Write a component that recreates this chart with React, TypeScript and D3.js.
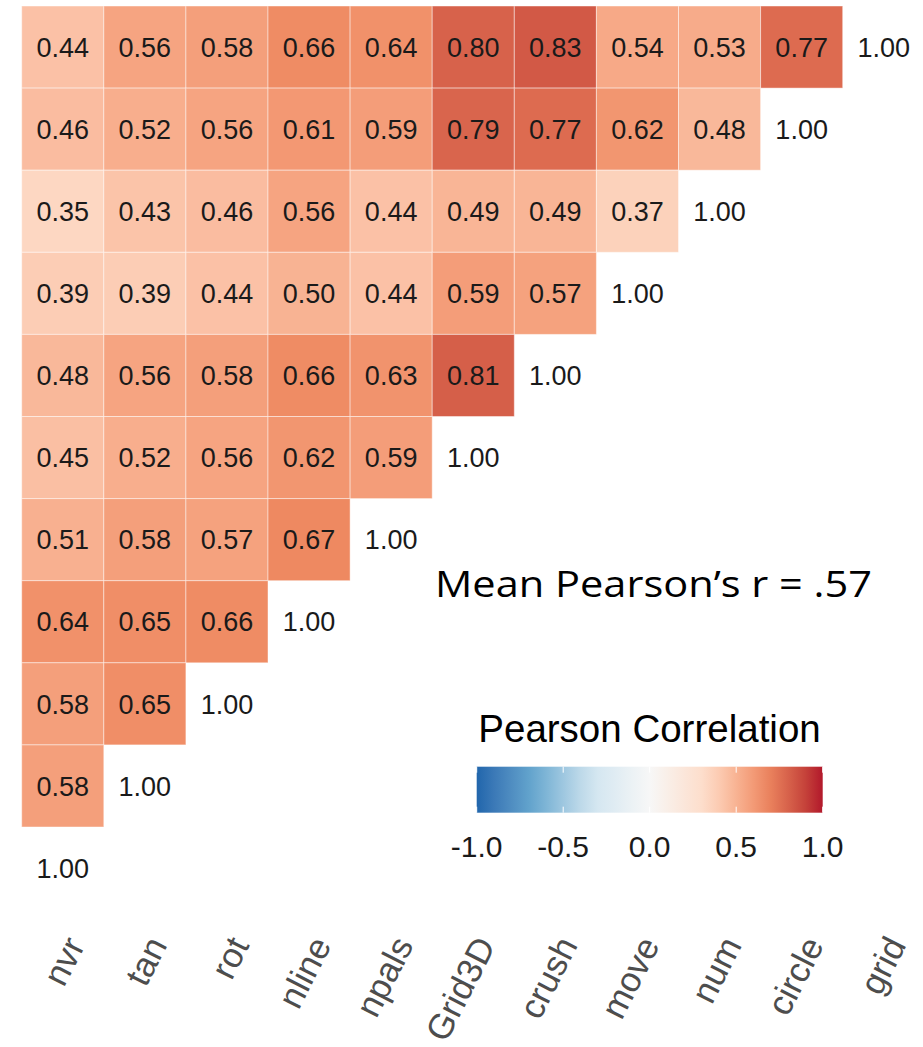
import React from "react";
import * as d3 from "d3";

const variables = ["nvr", "tan", "rot", "nline", "npals", "Grid3D", "crush", "move", "num", "circle", "grid"];
const rowOrder = ["grid", "circle", "num", "move", "crush", "Grid3D", "npals", "nline", "rot", "tan", "nvr"];

const rGrid = [0.44, 0.56, 0.58, 0.66, 0.64, 0.80, 0.83, 0.54, 0.53, 0.77, 1.00];
const rCircle = [0.46, 0.52, 0.56, 0.61, 0.59, 0.79, 0.77, 0.62, 0.48, 1.00];
const rNum = [0.35, 0.43, 0.46, 0.56, 0.44, 0.49, 0.49, 0.37, 1.00];
const rMove = [0.39, 0.39, 0.44, 0.50, 0.44, 0.59, 0.57, 1.00];
const rCrush = [0.48, 0.56, 0.58, 0.66, 0.63, 0.81, 1.00];
const rGrid3D = [0.45, 0.52, 0.56, 0.62, 0.59, 1.00];
const rNpals = [0.51, 0.58, 0.57, 0.67, 1.00];
const rNline = [0.64, 0.65, 0.66, 1.00];
const rRot = [0.58, 0.65, 1.00];
const rTan = [0.58, 1.00];
const rNvr = [1.00];

const rowValues = [rGrid, rCircle, rNum, rMove, rCrush, rGrid3D, rNpals, rNline, rRot, rTan, rNvr];

const legendTicks = [-1, -0.5, 0, 0.5, 1];
const rdbuStops = ["#2166ac", "#67a9cf", "#d1e5f0", "#f7f7f7", "#fddbc7", "#ef8a62", "#b2182b"];

type Cell = { row: string; col: string; value: number; diag: boolean };

const cells: Cell[] = [];
rowOrder.forEach((r, i) => {
  rowValues[i].forEach((v, j) => {
    cells.push({ row: r, col: variables[j], value: v, diag: variables[j] === r });
  });
});

export default function App() {
  const W = 923;
  const H = 1047;
  const left = 21.7;
  const top = 6;
  const cell = 82.1;

  const x = d3.scaleBand<string>().domain(variables).range([left, left + cell * variables.length]).padding(0);
  const y = d3.scaleBand<string>().domain(rowOrder).range([top, top + cell * rowOrder.length]).padding(0);

  const color = d3
    .scaleLinear<string>()
    .domain(d3.range(7).map((i) => -1 + (2 * i) / 6))
    .range(rdbuStops)
    .interpolate(d3.interpolateLab);

  const fmt = d3.format(".2f");
  const fmtTick = (t: number) => d3.format(".1f")(t).replace("\u2212", "-");

  const lx = d3.scaleLinear().domain([-1, 1]).range([476.7, 822.7]);
  const barTop = 766.7;
  const barH = 46;
  const gradStops = d3.range(0, 21).map((i) => -1 + i * 0.1);

  return (
    <svg
      width={W}
      height={H}
      style={{ position: "absolute", left: 0, top: 0, background: "#fff" }}
      fontFamily="'Liberation Sans', Arial, Helvetica, sans-serif"
    >
      <defs>
        <linearGradient id="legendGrad" x1="0" x2="1" y1="0" y2="0">
          {gradStops.map((v, i) => (
            <stop key={i} offset={`${((v + 1) / 2) * 100}%`} stopColor={color(v)} />
          ))}
        </linearGradient>
      </defs>

      {cells
        .filter((c) => !c.diag)
        .map((c, i) => (
          <rect
            key={`r${i}`}
            x={x(c.col)}
            y={y(c.row)}
            width={x.bandwidth()}
            height={y.bandwidth()}
            fill={color(c.value)}
            stroke="#ffffff"
            strokeOpacity={0.45}
            strokeWidth={1}
          />
        ))}

      {cells.map((c, i) => (
        <text
          key={`t${i}`}
          x={(x(c.col) as number) + x.bandwidth() / 2}
          y={(y(c.row) as number) + y.bandwidth() / 2}
          dy="0.36em"
          textAnchor="middle"
          fontSize={27}
          fill="#1a1a1a"
        >
          {fmt(c.value)}
        </text>
      ))}

      {variables.map((v) => {
        const ax = (x(v) as number) + x.bandwidth() / 2 + 23;
        const ay = 945;
        return (
          <text
            key={`ax${v}`}
            transform={`translate(${ax},${ay}) rotate(-63)`}
            textAnchor="end"
            fontSize={35}
            fill="#4d4d4d"
          >
            {v}
          </text>
        );
      })}

      <text
        x={435}
        y={597}
        fontSize={36}
        fontFamily="'Open Sans', 'Noto Sans', sans-serif"
        fill="#000"
        textLength={437}
        lengthAdjust="spacingAndGlyphs"
      >
        Mean Pearson’s r = .57
      </text>

      <text x={649.5} y={742} textAnchor="middle" fontSize={38.5} fill="#000">
        Pearson Correlation
      </text>

      <rect x={lx(-1)} y={barTop} width={lx(1) - lx(-1)} height={barH} fill="url(#legendGrad)" />
      {legendTicks.map((t) => (
        <g key={`lt${t}`}>
          <line x1={lx(t)} x2={lx(t)} y1={barTop} y2={barTop + 6} stroke="#fff" strokeWidth={1} />
          <line x1={lx(t)} x2={lx(t)} y1={barTop + barH - 6} y2={barTop + barH} stroke="#fff" strokeWidth={1} />
          <text x={lx(t)} y={856.7} textAnchor="middle" fontSize={30} fill="#1a1a1a">
            {fmtTick(t)}
          </text>
        </g>
      ))}
    </svg>
  );
}
